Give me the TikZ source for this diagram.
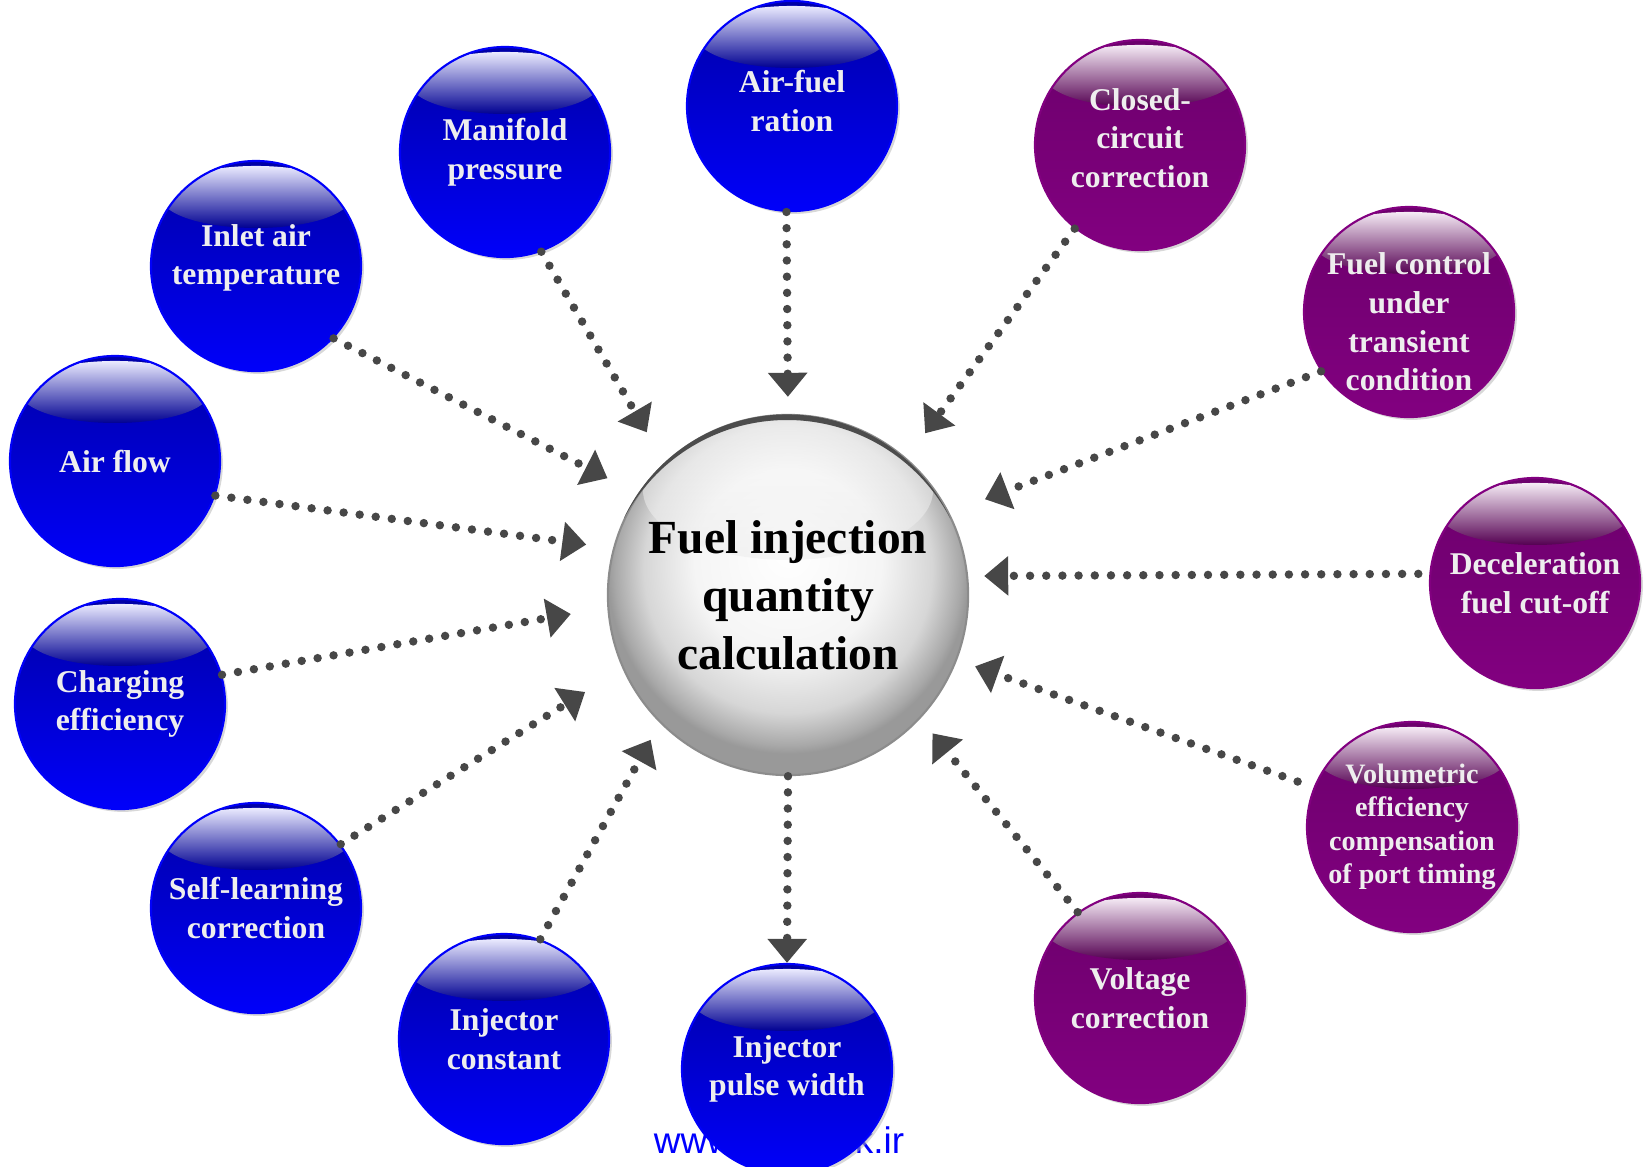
\documentclass[tikz,border=0pt]{standalone}
\usepackage{fontspec}
\setmainfont{Liberation Serif}
\newfontfamily\sitefont{Liberation Sans}
\usetikzlibrary{arrows.meta,shadows}

\definecolor{blueTop}{HTML}{0000A6}
\definecolor{blueMid}{HTML}{000088}
\definecolor{blueBot}{HTML}{0000FA}
\definecolor{plumTop}{HTML}{6C006C}
\definecolor{plumMid}{HTML}{4A0046}
\definecolor{plumBot}{HTML}{820080}
\definecolor{dotgray}{HTML}{474747}
\definecolor{ballText}{HTML}{EEEEEE}

\pgfdeclareradialshading{silverball}{\pgfpoint{0bp}{6bp}}{color(0bp)=(white); color(13bp)=(white!96!black); color(20bp)=(white!84!black); color(24bp)=(white!66!black); color(25bp)=(white!60!black); color(50bp)=(white!60!black)}

\tikzset{
  balltext/.style={align=center, text=ballText, font=\bfseries\fontsize{9}{11}\selectfont},
  ball/.style n args={3}{balltext, circle, minimum size=2.1cm, inner sep=0pt, draw=#3, line width=0.6pt,
    drop shadow={shadow xshift=0.8pt, shadow yshift=-0.8pt, fill=black!30},
    path picture={
      \shade[top color=#1, middle color=#2, bottom color=#3]
        (path picture bounding box.south west) rectangle (path picture bounding box.north east);
      \shade[top color=white!92!#3, bottom color=#2!70!#1]
        ([yshift=-0.36cm]path picture bounding box.north) ellipse (0.95cm and 0.31cm);
    }},
  blueball/.style={ball={blueTop}{blueMid}{blueBot}},
  plumball/.style={ball={plumTop}{plumMid}{plumBot}},
  feed/.style={dotgray, line width=2.4pt, line cap=round, dash pattern=on 0pt off 4.6pt,
    -{Triangle[length=2.4mm, width=3.8mm]}}
}

\begin{document}
\begin{tikzpicture}[x=0.01cm, y=-0.01cm]
  \useasboundingbox (0,0) rectangle (1643,1166);
  \node[font=\sitefont\fontsize{10.5}{12}\selectfont, text=blue, anchor=base] (site) at (779,1153) {www.cargeek.ir};

  \node[circle, minimum size=3.6cm, inner sep=0pt, align=center, draw=black!45, line width=0.6pt,
    font=\bfseries\fontsize{13.5}{16.5}\selectfont,
    path picture={
      \shade[shading=silverball] (path picture bounding box.south west) rectangle (path picture bounding box.north east);
      \shade[top color=white, bottom color=white!92!black, opacity=0.5]
        ([yshift=-0.75cm]path picture bounding box.north) ellipse (1.45cm and 0.7cm);
    }] (fic) at (788,595) {Fuel injection\\quantity\\calculation};
  \fill[black!70] (fic.155) arc[start angle=155, end angle=25, radius=1.8cm]
    arc[start angle=27.8, end angle=152.2, radius=1.8436cm] -- cycle;

  \node[blueball] (manifold) at (505,152) {Manifold\\pressure};
  \node[blueball] (airfuel) at (792,106) {};
  \node[balltext, yshift=0.5mm] (airfuelText) at (airfuel) {Air-fuel\\ration};
  \node[plumball] (closed) at (1140,145) {};
  \node[balltext, yshift=0.7mm] (closedText) at (closed) {Closed-\\circuit\\correction};
  \node[plumball] (transient) at (1409,312) {};
  \node[balltext, yshift=-1mm] (transientText) at (transient) {Fuel control\\under\\transient\\condition};
  \node[plumball] (decel) at (1535,583) {Deceleration\\fuel cut-off};
  \node[plumball, font=\bfseries\fontsize{8}{9.5}\selectfont] (volumetric) at (1412,827) {Volumetric\\efficiency\\compensation\\of port timing};
  \node[plumball] (voltage) at (1140,998) {Voltage\\correction};
  \node[blueball] (pulse) at (787,1069) {Injector\\pulse width};
  \node[blueball] (injconst) at (504,1039) {Injector\\constant};
  \node[blueball] (selflearn) at (256,908) {Self-learning\\correction};
  \node[blueball] (charging) at (120,704) {Charging\\efficiency};
  \node[blueball] (airflow) at (115,461) {Air flow};
  \node[blueball] (inlet) at (256,266) {};
  \node[balltext, yshift=0.8mm] (inletText) at (inlet) {Inlet air\\temperature};

  \draw[feed, shorten >=3.4mm] (inlet.-43) -- (fic.146.5);
  \draw[feed, shorten >=2.7mm] (airflow.-19) -- (fic.165.4);
  \draw[feed, shorten >=3.7mm] (charging.16) -- (fic.184);
  \draw[feed, shorten >=4.4mm] (selflearn.37) -- (fic.204.5);
  \draw[feed, shorten >=1.9mm] (injconst.70) -- (fic.225);
  \draw[feed, shorten >=3.5mm] (manifold.-70) -- (fic.133);
  \draw[feed, shorten >=1.7mm] (airfuel.-93) -- (fic.90.6);
  \draw[feed, shorten >=3.1mm] (closed.232) -- (fic.49.7);
  \draw[feed, shorten >=3.8mm] (transient.214) -- (fic.27.7);
  \draw[feed, shorten <=1.1mm, shorten >=1.6mm] (decel.175) -- (fic.6.7);
  \draw[feed, shorten <=1.7mm, shorten >=1.9mm] (volumetric.158.5) -- (fic.-21.7);
  \draw[feed, shorten >=1.9mm] (voltage.126) -- (fic.-43.8);
  \draw[feed] (fic.-90) -- (pulse.90);
\end{tikzpicture}
\end{document}
